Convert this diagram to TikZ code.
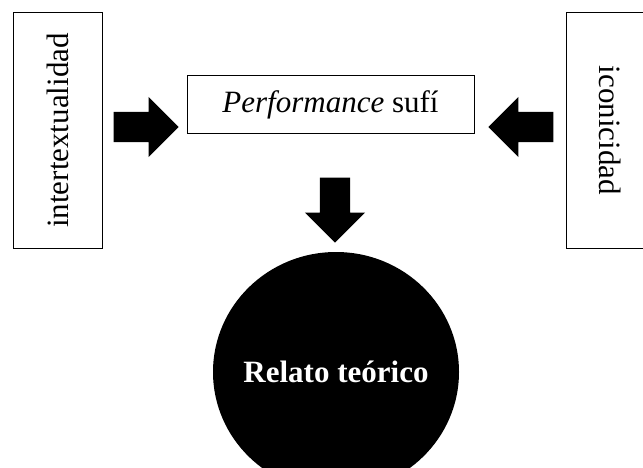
\documentclass[tikz,border=0pt]{standalone}
\usepackage{fontspec}
\setmainfont{Liberation Serif}
\usepackage{tikz}
\usetikzlibrary{
  positioning,
  shapes.geometric,
  shapes.arrows
}

\begin{document}
\begin{tikzpicture}[
    x=1pt, y=-1pt,
    every node/.style={font=\fontsize{31}{36}\selectfont},
    sidebox/.style={draw, line width=1pt, minimum width=235pt, minimum height=89pt, inner sep=0pt},
    midbox/.style={draw, line width=1pt, minimum width=287pt, minimum height=58pt, inner sep=0pt},
    fat/.style={single arrow, fill=black, inner sep=15pt, minimum height=65pt, anchor=tip,
      single arrow head extend=15pt, single arrow tip angle=90, single arrow head indent=0pt},
    goal/.style={ellipse, fill=black, minimum width=246pt, minimum height=240pt, inner sep=0pt},
    goaltxt/.style={text=white, font=\fontsize{31}{36}\selectfont\bfseries}
  ]
    \useasboundingbox (0,0) rectangle (643,468);
    \node[sidebox, rotate=90] (inter) at (57.5,130.5) {intertextualidad};
    \node[sidebox, rotate=-90] (icon) at (610.5,130.5) {iconicidad};
    \node[midbox] (perf) at (330.5,105) {\textit{Performance} sufí};
    \node[fat] (arrL) at (179,127) {};
    \node[fat, rotate=180] (arrR) at (488,127) {};
    \node[fat, rotate=-90] (arrD) at (335,243) {};
    \node[goal, label={[goaltxt]center:Relato teórico}] (relato) at (336,372) {};
  \end{tikzpicture}
\end{document}
